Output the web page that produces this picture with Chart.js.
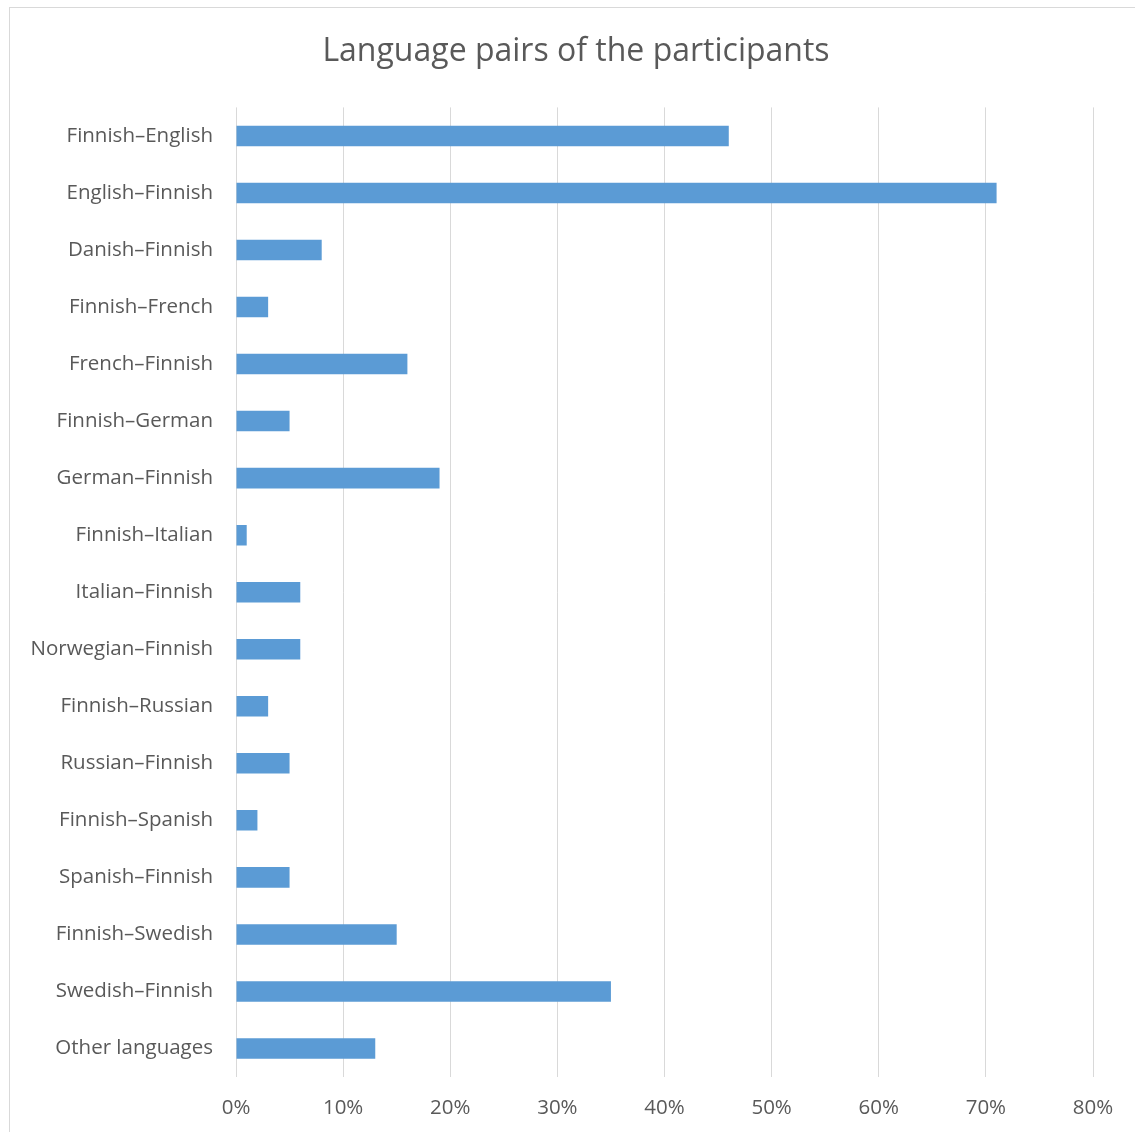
<!DOCTYPE html>
<html>
<head>
<meta charset="utf-8">
<script src="https://cdn.jsdelivr.net/npm/chart.js@4/dist/chart.umd.min.js"></script>
<style>
  html, body { margin: 0; padding: 0; background: #ffffff; overflow: hidden; }
  #frame { position: absolute; left: 9px; top: 7px; width: 1200px; height: 1200px; border: 1px solid #d9d9d9; }
  #wrap { position: absolute; left: 0; top: 0; width: 1135px; height: 1132px; }
</style>
</head>
<body>
<div id="frame"></div>
<div id="wrap"><canvas id="c" width="1135" height="1132"></canvas></div>
<script>
const categories = [
  "Finnish–English", "English–Finnish", "Danish–Finnish", "Finnish–French",
  "French–Finnish", "Finnish–German", "German–Finnish", "Finnish–Italian",
  "Italian–Finnish", "Norwegian–Finnish", "Finnish–Russian", "Russian–Finnish",
  "Finnish–Spanish", "Spanish–Finnish", "Finnish–Swedish", "Swedish–Finnish",
  "Other languages"
];
const shares = [46, 71, 8, 3, 16, 5, 19, 1, 6, 6, 3, 5, 2, 5, 15, 35, 13];
const xTicks = [0, 10, 20, 30, 40, 50, 60, 70, 80];
const titleText = "Language pairs of the participants";

const FONT = "'Open Sans', sans-serif";
const TEXT = "#595959";

new Chart(document.getElementById('c'), {
  type: 'bar',
  data: {
    labels: categories,
    datasets: [{
      data: shares,
      backgroundColor: '#5b9bd5',
      borderWidth: 0,
      barPercentage: 0.72,
      categoryPercentage: 0.5
    }]
  },
  options: {
    indexAxis: 'y',
    responsive: false,
    animation: false,
    layout: { padding: { left: 17, right: 42, top: 0, bottom: 0 } },
    plugins: {
      legend: { display: false },
      tooltip: { enabled: false },
      title: {
        display: true,
        text: titleText,
        color: TEXT,
        font: { family: FONT, size: 32, weight: 'normal' },
        padding: { top: 33, bottom: 36 }
      }
    },
    scales: {
      x: {
        min: 0, max: 80,
        afterBuildTicks: (s) => { s.ticks = xTicks.map(v => ({ value: v })); },
        afterFit: (s) => { s.height = 55; },
        grid: { color: '#d9d9d9', lineWidth: 1, drawTicks: false },
        border: { display: false },
        ticks: {
          color: TEXT, padding: 19,
          font: { family: FONT, size: 20.5 },
          callback: (v) => v + '%'
        }
      },
      y: {
        afterFit: (s) => { s.width = 219; },
        grid: { display: false, drawTicks: false },
        border: { display: false },
        ticks: {
          color: TEXT, padding: 23,
          font: { family: FONT, size: 20.5 },
          autoSkip: false
        }
      }
    }
  },
  plugins: [{
    id: 'centerTitleOnFrame',
    afterLayout(chart) {
      if (chart.titleBlock) { chart.titleBlock.right = chart.width; }
    }
  }]
});
</script>
</body>
</html>
